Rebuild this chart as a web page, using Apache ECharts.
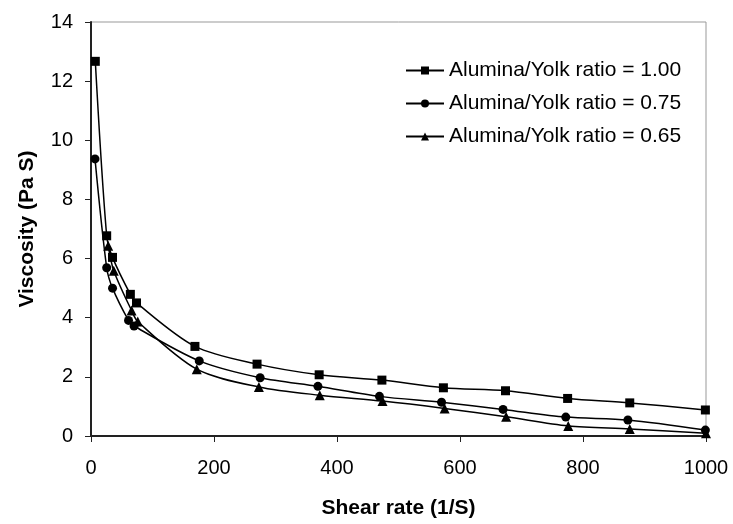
<!DOCTYPE html>
<html>
<head>
<meta charset="utf-8">
<script src="https://cdn.jsdelivr.net/npm/echarts@6/dist/echarts.min.js"></script>
<style>
html,body{margin:0;padding:0;background:#fff;}
#chart{width:733px;height:524px;}
</style>
</head>
<body>
<div id="chart"></div>
<script>
const seriesNames = ['Alumina/Yolk ratio = 1.00', 'Alumina/Yolk ratio = 0.75', 'Alumina/Yolk ratio = 0.65'];
const xSquare = [7, 25.5, 35, 64, 74, 169, 270, 371, 473, 573, 674, 775, 876, 999];
const ySquare = [12.67, 6.77, 6.04, 4.79, 4.50, 3.03, 2.43, 2.07, 1.89, 1.63, 1.53, 1.27, 1.12, 0.88];
const xCircle = [6.5, 25.5, 35, 61, 70, 176, 275, 369, 469, 570, 670, 772, 873, 999];
const yCircle = [9.37, 5.69, 5.0, 3.91, 3.72, 2.54, 1.97, 1.68, 1.34, 1.14, 0.90, 0.64, 0.54, 0.20];
const xTriangle = [28, 37, 66, 76, 172, 273, 372, 474, 575, 675, 776, 876, 1000];
const yTriangle = [6.43, 5.59, 4.24, 3.87, 2.26, 1.66, 1.38, 1.18, 0.93, 0.65, 0.34, 0.24, 0.09];
const xAxisTitle = 'Shear rate (1/S)';
const yAxisTitle = 'Viscosity (Pa S)';

const pair = (xs, ys) => xs.map((x, i) => [x, ys[i]]);
const FONT = 'Liberation Sans, Arial, sans-serif';

const chart = echarts.init(document.getElementById('chart'), null, {renderer: 'canvas'});
const mk = (name, data, symbol, size) => ({
  name, type: 'line', data, symbol, symbolSize: size, smooth: 0.3,
  lineStyle: {color: '#000', width: 1.5},
  itemStyle: {color: '#000', borderWidth: 0},
  emphasis: {disabled: true},
  animation: false
});
chart.setOption({
  animation: false,
  backgroundColor: '#fff',
  grid: {left: 91, right: 27, top: 22, bottom: 86, show: true, borderColor: '#999', borderWidth: 1, containLabel: false},
  legend: {
    orient: 'vertical', left: 400, top: 55, itemWidth: 38, itemHeight: 10, itemGap: 12,
    textStyle: {fontFamily: FONT, fontSize: 21, color: '#000'},
    data: seriesNames
  },
  xAxis: {
    type: 'value', min: 0, max: 1000, interval: 200,
    name: xAxisTitle, nameLocation: 'middle', nameGap: 62,
    nameTextStyle: {fontFamily: FONT, fontSize: 21, fontWeight: 'bold', color: '#000'},
    axisLine: {lineStyle: {color: '#222', width: 2}},
    axisTick: {inside: false, length: 6, lineStyle: {color: '#222', width: 1}},
    axisLabel: {fontFamily: FONT, fontSize: 20, color: '#000', margin: 22, formatter: v => String(v)},
    splitLine: {show: false}
  },
  yAxis: {
    type: 'value', min: 0, max: 14, interval: 2,
    name: yAxisTitle, nameLocation: 'middle', nameGap: 53, nameRotate: 90,
    nameTextStyle: {fontFamily: FONT, fontSize: 21, fontWeight: 'bold', color: '#000'},
    axisLine: {show: true, lineStyle: {color: '#222', width: 2}},
    axisTick: {show: true, inside: false, length: 6, lineStyle: {color: '#222', width: 1}},
    axisLabel: {fontFamily: FONT, fontSize: 20, color: '#000', margin: 18},
    splitLine: {show: false}
  },
  series: [
    mk(seriesNames[0], pair(xSquare, ySquare), 'rect', 9),
    mk(seriesNames[1], pair(xCircle, yCircle), 'circle', 9),
    mk(seriesNames[2], pair(xTriangle, yTriangle), 'triangle', 10)
  ]
});
</script>
</body>
</html>
